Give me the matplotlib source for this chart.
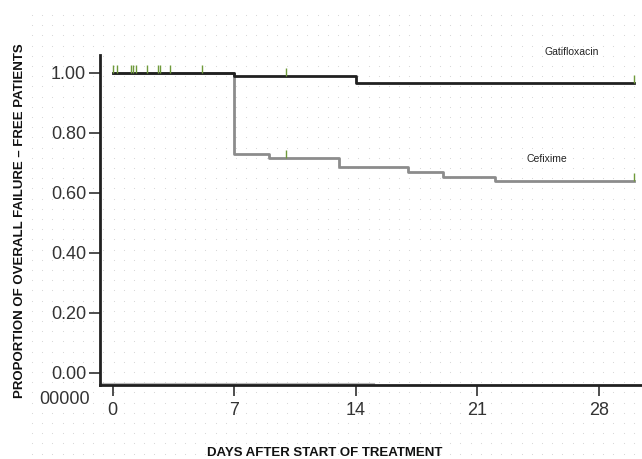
import numpy as np
import matplotlib
matplotlib.use('Agg')
from matplotlib import pyplot as plt
from matplotlib.path import Path

# step times (days) and survival levels
gati_days = [0, 7, 14, 30]
gati_surv = [1.00, 0.989, 0.966, 0.966]

cef_days = [0, 7, 9, 13, 17, 19, 22, 30]
cef_surv = [1.00, 0.729, 0.715, 0.685, 0.669, 0.653, 0.638, 0.638]

# censored observations
early_cens = [0.03, 0.26, 1.05, 1.15, 1.34, 2.0, 2.63, 2.73, 3.3, 5.17]
gati_cens_days = [10, 30]
gati_cens_surv = [0.989, 0.966]
cef_cens_days = [10, 30]
cef_cens_surv = [0.715, 0.638]

xticks = [0, 7, 14, 21, 28]
yticks = [0.0, 0.2, 0.4, 0.6, 0.8, 1.0]
ytick_labels = ['0.00', '0.20', '0.40', '0.60', '0.80', '1.00']

fonts = ['Liberation Sans Narrow', 'Liberation Sans', 'DejaVu Sans']

fig = plt.figure(figsize=(6.42, 4.59), dpi=100)

# dotted background over the whole figure
bg = fig.add_axes([0, 0, 1, 1], zorder=0)
bg.set_xlim(0, 642)
bg.set_ylim(459, 0)
bg.axis('off')
gx, gy = np.meshgrid(np.arange(32, 642, 10.2), np.arange(15, 459, 10.2))
bg.scatter(gx.ravel(), gy.ravel(), s=0.6, color='#d4d4d4', linewidths=0)

ax = fig.add_axes([100 / 642, 74 / 459, 542 / 642, 330 / 459], zorder=1)
ax.set_facecolor('none')
ax.set_xlim(-0.73, 30.47)
ax.set_ylim(-0.041, 1.059)

ax.step(cef_days, cef_surv, where='post', color='#8c8c8c', lw=2.0, zorder=3)
ax.step(gati_days, gati_surv, where='post', color='#202020', lw=2.0, zorder=4)

tick_marker = Path([(0, 0), (0, 1)])
ax.plot(early_cens, [1.0] * len(early_cens), ls='none', marker=tick_marker,
        ms=11, mec='#6f9a3a', mew=1.0, zorder=5)
ax.plot(gati_cens_days, gati_cens_surv, ls='none', marker=tick_marker,
        ms=11, mec='#6f9a3a', mew=1.0, zorder=5)
ax.plot(cef_cens_days, cef_cens_surv, ls='none', marker=tick_marker,
        ms=11, mec='#6f9a3a', mew=1.0, zorder=5)

# faint grey segment sitting on the x axis
ax.axhline(-0.041, xmin=0, xmax=0.504, color='#b8b8b8', lw=3, zorder=2)

for s in ['top', 'right']:
    ax.spines[s].set_visible(False)
for s in ['left', 'bottom']:
    ax.spines[s].set_linewidth(2)
    ax.spines[s].set_color('#202020')

ax.set_xticks(xticks)
ax.set_xticklabels([str(t) for t in xticks])
ax.set_yticks(yticks)
ax.set_yticklabels(ytick_labels)
ax.tick_params(axis='both', length=8, width=1.2, color='#303030',
               labelsize=13, labelcolor='#333333')
ax.tick_params(axis='x', pad=4)
ax.tick_params(axis='y', pad=2)
for lab in ax.get_xticklabels() + ax.get_yticklabels():
    lab.set_family(fonts)

ax.text(26.4, 1.069, 'Gatifloxacin', fontsize=7.5, family=fonts,
        ha='center', va='center', color='#222222')
ax.text(25.0, 0.712, 'Cefixime', fontsize=7.5, family=fonts,
        ha='center', va='center', color='#222222')

fig.text(65 / 642, 1 - 399 / 459, '00000', fontsize=13, family=fonts,
         color='#333333', ha='center', va='center')

fig.text(20 / 642, 1 - 221 / 459,
         'PROPORTION OF OVERALL FAILURE \u2013 FREE PATIENTS',
         rotation=90, fontsize=9.5, fontweight='bold', family=fonts,
         ha='center', va='center', color='#111111')
fig.text(325 / 642, 1 - 453 / 459, 'DAYS AFTER START OF TREATMENT',
         fontsize=9.5, fontweight='bold', family=fonts,
         ha='center', va='center', color='#111111')

fig.savefig('out.png', dpi=100)
